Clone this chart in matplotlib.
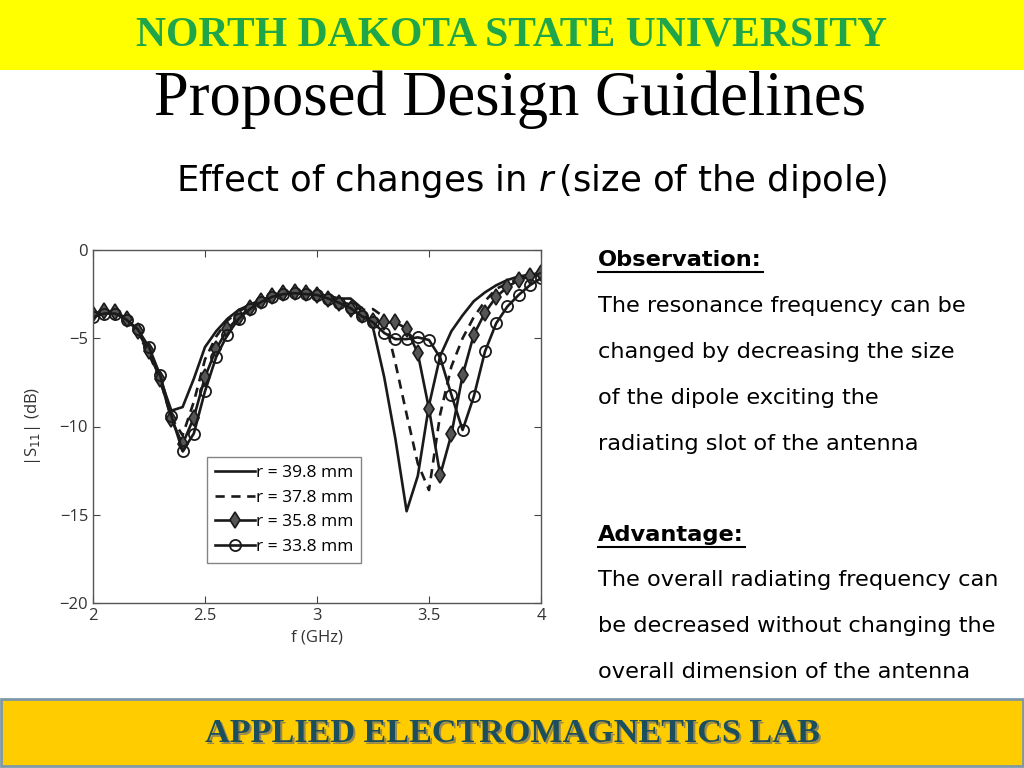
"""
Slide: Proposed Design Guidelines - efecto de r en S11
"""

import matplotlib
matplotlib.use("Agg")
import matplotlib.pyplot as plt
from matplotlib.patches import Rectangle
from matplotlib.lines import Line2D
import numpy as np

# frecuencias (GHz), paso 0.05
freq = [2.00, 2.05, 2.10, 2.15, 2.20, 2.25, 2.30, 2.35, 2.40, 2.45,
        2.50, 2.55, 2.60, 2.65, 2.70, 2.75, 2.80, 2.85, 2.90, 2.95,
        3.00, 3.05, 3.10, 3.15, 3.20, 3.25, 3.30, 3.35, 3.40, 3.45,
        3.50, 3.55, 3.60, 3.65, 3.70, 3.75, 3.80, 3.85, 3.90, 3.95, 4.00]

s11_398 = [-3.7, -3.5, -3.5, -3.9, -4.6, -5.8, -7.3, -9.1, -8.9, -7.3,
           -5.5, -4.6, -3.9, -3.4, -3.1, -2.85, -2.65, -2.5, -2.45, -2.45,
           -2.5, -2.6, -2.75, -2.75, -3.3, -4.4, -7.2, -10.7, -14.8, -12.8,
           -8.8, -6.0, -4.6, -3.7, -2.9, -2.4, -2.0, -1.7, -1.5, -1.4, -1.3]

s11_378 = [-3.8, -3.6, -3.6, -4.0, -4.7, -5.9, -7.4, -9.5, -10.5, -8.6,
           -6.2, -4.9, -4.0, -3.5, -3.1, -2.85, -2.65, -2.5, -2.45, -2.5,
           -2.55, -2.7, -2.9, -3.1, -3.4, -3.35, -3.8, -6.4, -9.3, -12.1,
           -13.6, -9.3, -6.6, -5.0, -3.8, -2.9, -2.2, -1.9, -1.65, -1.5, -1.4]

s11_358 = [-3.6, -3.45, -3.5, -3.9, -4.6, -5.7, -7.3, -9.6, -11.0, -9.5,
           -7.2, -5.6, -4.5, -3.8, -3.3, -2.9, -2.6, -2.45, -2.4, -2.45,
           -2.55, -2.75, -3.0, -3.35, -3.7, -4.0, -4.1, -4.1, -4.45, -5.85,
           -9.0, -12.75, -10.45, -7.1, -4.8, -3.55, -2.65, -2.1, -1.7, -1.5, -1.3]

s11_338 = [-3.8, -3.6, -3.6, -3.95, -4.5, -5.5, -7.1, -9.4, -11.4, -10.4,
           -8.0, -6.05, -4.8, -3.9, -3.35, -2.95, -2.65, -2.5, -2.45, -2.5,
           -2.55, -2.75, -3.0, -3.3, -3.75, -4.1, -4.7, -5.05, -5.05, -4.95,
           -5.1, -6.1, -8.2, -10.2, -8.3, -5.75, -4.15, -3.2, -2.55, -2.0, -1.6]

etiquetas = ["r = 39.8 mm", "r = 37.8 mm", "r = 35.8 mm", "r = 33.8 mm"]

obs_lineas = ["The resonance frequency can be",
              "changed by decreasing the size",
              "of the dipole exciting the",
              "radiating slot of the antenna"]
adv_lineas = ["The overall radiating frequency can",
              "be decreased without changing the",
              "overall dimension of the antenna"]

fig = plt.figure(figsize=(10.24, 7.68), dpi=100)
fig.patch.set_facecolor("white")

W, H = 1024.0, 768.0

def fx(px):
    return px / W

def fy(py):
    return 1 - py / H

# Bandas superior e inferior
fig.add_artist(Rectangle((0, fy(70)), 1, 70 / H, transform=fig.transFigure,
                         facecolor="#FFFF00", edgecolor="none", zorder=0))
fig.add_artist(Rectangle((fx(1), fy(766)), 1022 / W, 67 / H, transform=fig.transFigure,
                         facecolor="#FFCC00", edgecolor="#7E98A8", linewidth=2, zorder=0))

fig.text(fx(512), fy(36), "NORTH DAKOTA STATE UNIVERSITY", ha="center", va="center",
         fontsize=30, fontweight="bold", family="Liberation Serif", color="#1FA54A")
fig.text(fx(510), fy(100), "Proposed Design Guidelines", ha="center", va="center",
         fontsize=45, family="Liberation Serif", color="black")

plt.rcParams["mathtext.fontset"] = "custom"
plt.rcParams["mathtext.it"] = "DejaVu Sans:italic"
plt.rcParams["mathtext.rm"] = "DejaVu Sans"
fig.text(fx(532), fy(181), r"Effect of changes in $r\,$(size of the dipole)", ha="center",
         va="center", fontsize=25.5, family="DejaVu Sans", color="black")

# titulo inferior con sombra
fig.text(fx(514), fy(735.5), "APPLIED ELECTROMAGNETICS LAB", ha="center", va="center",
         fontsize=24.6, fontweight="bold", family="Liberation Serif", color="#9A8A50")
fig.text(fx(512.5), fy(734), "APPLIED ELECTROMAGNETICS LAB", ha="center", va="center",
         fontsize=24.6, fontweight="bold", family="Liberation Serif", color="#1C4F5E")

# Texto de la derecha
x_txt = fx(598)
fs_txt = 16.2
fig.text(x_txt, fy(260), "Observation:", ha="left", va="center",
         fontsize=fs_txt, fontweight="bold", family="DejaVu Sans")
for i, linea in enumerate(obs_lineas):
    fig.text(x_txt, fy(306 + 46 * i), linea, ha="left", va="center",
             fontsize=fs_txt, family="DejaVu Sans")
fig.text(x_txt, fy(535), "Advantage:", ha="left", va="center",
         fontsize=fs_txt, fontweight="bold", family="DejaVu Sans")
for i, linea in enumerate(adv_lineas):
    fig.text(x_txt, fy(580 + 46 * i), linea, ha="left", va="center",
             fontsize=fs_txt, family="DejaVu Sans")
fig.add_artist(Line2D([fx(598), fx(763)], [fy(272), fy(272)], color="black",
                      linewidth=1.5, transform=fig.transFigure))
fig.add_artist(Line2D([fx(598), fx(745)], [fy(547), fy(547)], color="black",
                      linewidth=1.5, transform=fig.transFigure))

# Grafico S11
ax = fig.add_axes([fx(93), fy(603), (541 - 93) / W, (603 - 250) / H])
lw = 1.9
c = "#1a1a1a"
ax.plot(freq, s11_398, color=c, linewidth=lw, label=etiquetas[0])
ax.plot(freq, s11_378, color=c, linewidth=lw, linestyle=(0, (3.5, 2.5)), label=etiquetas[1])
ax.plot(freq, s11_358, color=c, linewidth=lw, marker="d", markersize=8,
        markerfacecolor="#555555", markeredgecolor=c, markeredgewidth=1.2, label=etiquetas[2])
ax.plot(freq, s11_338, color=c, linewidth=lw, marker="o", markersize=8,
        markerfacecolor="none", markeredgecolor=c, markeredgewidth=1.3, label=etiquetas[3])

ax.set_xlim(2, 4)
ax.set_ylim(-20, 0)
ax.set_xticks([2, 2.5, 3, 3.5, 4])
ax.set_xticklabels(["2", "2.5", "3", "3.5", "4"])
ax.set_yticks([-20, -15, -10, -5, 0])
ax.set_yticklabels(["\u221220", "\u221215", "\u221210", "\u22125", "0"])
ax.tick_params(direction="in", top=True, right=True, length=5, labelsize=12,
               colors="#444444", labelcolor="#333333")
for sp in ax.spines.values():
    sp.set_color("#555555")
    sp.set_linewidth(1.0)
for lab in ax.get_xticklabels() + ax.get_yticklabels():
    lab.set_family("Open Sans")
ax.set_xlabel("f (GHz)", fontsize=12, family="Open Sans", color="#333333", labelpad=4)
ax.set_ylabel(r"|S$_{11}$| (dB)", fontsize=12, family="Open Sans", color="#333333", labelpad=12)

leg = ax.legend(loc="lower left", bbox_to_anchor=(0.254, 0.113), borderaxespad=0,
                frameon=True, fancybox=False, handlelength=2.3, handletextpad=0.1,
                borderpad=0.45, labelspacing=0.5, prop={"family": "Open Sans", "size": 12.5})
leg.get_frame().set_edgecolor("#666666")
leg.get_frame().set_linewidth(1.0)

fig.savefig("out.png", dpi=100)
